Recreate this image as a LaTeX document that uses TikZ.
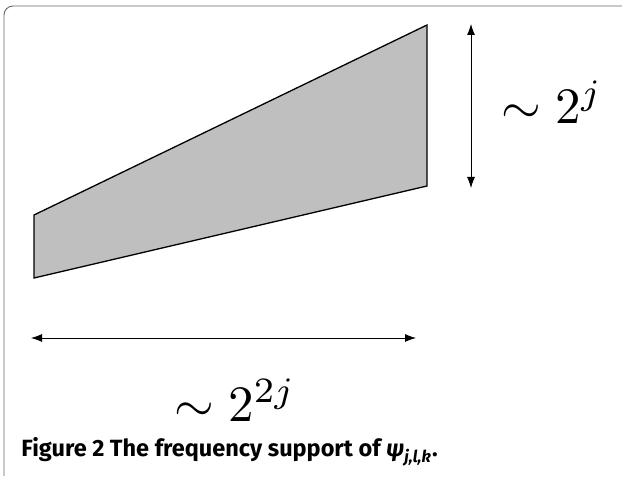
\documentclass[tikz,border=0pt]{standalone}
\usepackage{amsmath,amssymb}
\usepackage{fontspec}
\setsansfont{Fira Sans}
\usepackage{tikz}
\usetikzlibrary{arrows.meta}

\begin{document}
\begin{tikzpicture}[x=1pt,y=-1pt,>={Latex[length=11pt,width=8pt]}]
    % 画布
    \useasboundingbox (0,0) rectangle (622,478);

    % 外框
    \draw[gray!80!black, line width=0.9pt, rounded corners=9pt]
        (4,476) -- (4,6) -- (640,6);

    % 关键点
    \coordinate (LT) at (34,215);
    \coordinate (LB) at (34,278);
    \coordinate (RT) at (427,25);
    \coordinate (RB) at (427,186);

    % 频率支撑
    \filldraw[fill=black!25, draw=black, line width=1.3pt, line join=miter]
        (LT) -- (RT) -- (RB) -- (LB) -- cycle;

    % 竖直尺寸
    \coordinate (VT) at (471,24);
    \coordinate (VB) at (471,188);
    \draw[<->, line width=0.8pt] (VT) -- (VB);
    \node[scale=5.1] (hgt) at (552,102) {$\sim 2^{j}$};

    % 水平尺寸
    \coordinate (HL) at (31,338);
    \coordinate (HR) at (416,338);
    \draw[<->, line width=0.8pt] (HL) -- (HR);
    \node[scale=5.1] (wid) at (235,400) {$\sim 2^{2j}$};

    % 图注
    \node[anchor=base west, inner sep=0pt, scale=2.35] (cap) at (21,457)
        {\sffamily\bfseries Figure 2 The frequency support of
         \textit{ψ\textsubscript{j,l,k}}.};
\end{tikzpicture}
\end{document}
